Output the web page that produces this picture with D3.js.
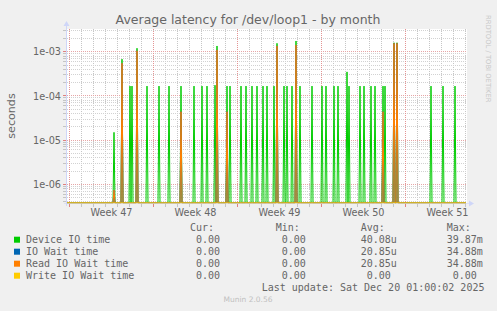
<!DOCTYPE html>
<html>
<head>
<meta charset="utf-8">
<script src="https://cdn.jsdelivr.net/npm/d3@7"></script>
<style>
  html, body { margin: 0; padding: 0; background: #f0f0f0; }
  svg { display: block; }
  text { fill: #666; font-family: 'DejaVu Sans', sans-serif; }
  .mono { font-family: 'DejaVu Sans Mono', monospace; font-size: 10px; white-space: pre; }
</style>
</head>
<body>
<svg id="chart" width="497" height="311"></svg>
<script>
const parseTime = d3.timeParse('%Y-%m-%d %H:%M');

const TITLE = 'Average latency for /dev/loop1 - by month';
const Y_LABEL = 'seconds';

// 2-hour averages that were not zero; every other sample is 0
const spikeTimes = [
  '2025-11-20 17:00', '2025-11-21 09:00', '2025-11-22 01:00', '2025-11-22 05:00',
  '2025-11-22 15:00', '2025-11-23 11:00', '2025-11-24 11:00', '2025-11-25 07:00',
  '2025-11-26 07:00', '2025-11-27 09:00', '2025-11-28 01:00', '2025-11-28 11:00',
  '2025-11-29 03:00', '2025-11-29 07:00', '2025-11-30 03:00', '2025-11-30 09:00',
  '2025-12-01 07:00', '2025-12-01 17:00', '2025-12-02 05:00', '2025-12-02 15:00',
  '2025-12-03 03:00', '2025-12-03 11:00', '2025-12-04 01:00', '2025-12-04 07:00',
  '2025-12-04 21:00', '2025-12-05 03:00', '2025-12-05 13:00', '2025-12-05 21:00',
  '2025-12-06 05:00', '2025-12-07 05:00', '2025-12-08 01:00', '2025-12-08 09:00',
  '2025-12-09 01:00', '2025-12-09 09:00', '2025-12-10 03:00', '2025-12-10 07:00',
  '2025-12-11 05:00', '2025-12-11 13:00', '2025-12-12 03:00', '2025-12-12 11:00',
  '2025-12-13 03:00', '2025-12-13 07:00', '2025-12-14 01:00', '2025-12-14 07:00',
  '2025-12-17 03:00', '2025-12-18 03:00', '2025-12-19 03:00',
];

const deviceIoTime = [
  1.5e-5, 6.8e-4, 1.67e-4, 1.67e-4, 1.2e-3, 1.67e-4, 1.67e-4, 1.67e-4,
  1.67e-4, 1.67e-4, 1.67e-4, 1.67e-4, 1.75e-4, 1.35e-3, 1.67e-4, 1.67e-4,
  1.67e-4, 1.67e-4, 1.67e-4, 1.67e-4, 1.67e-4, 1.67e-4, 1.67e-4, 1.55e-3,
  1.67e-4, 1.67e-4, 1.67e-4, 1.75e-3, 1.67e-4, 1.67e-4, 1.67e-4, 1.67e-4,
  1.67e-4, 1.67e-4, 3.5e-4, 1.67e-4, 1.67e-4, 1.67e-4, 1.67e-4, 1.67e-4,
  1.67e-4, 1.67e-4, 1.6e-3, 1.6e-3, 1.67e-4, 1.67e-4, 1.67e-4,
];

const ioWaitTime = [
  7.4e-7, 5.5e-4, 0, 0, 1.05e-3, 0, 0, 0,
  4.4e-5, 0, 0, 0, 0, 1.1e-3, 4.4e-5, 0,
  0, 0, 0, 0, 0, 0, 0, 1.35e-3,
  0, 0, 0, 1.42e-3, 0, 0, 0, 0,
  0, 0, 0, 0, 0, 0, 0, 0,
  4.4e-5, 0, 1.55e-3, 1.55e-3, 0, 0, 0,
];

const readIoWaitTime = [
  7.4e-7, 5.5e-4, 0, 0, 1.05e-3, 0, 0, 0,
  4.4e-5, 0, 0, 0, 0, 1.1e-3, 4.4e-5, 0,
  0, 0, 0, 0, 0, 0, 0, 1.35e-3,
  0, 0, 0, 1.42e-3, 0, 0, 0, 0,
  0, 0, 0, 0, 0, 0, 0, 0,
  4.4e-5, 0, 1.55e-3, 1.55e-3, 0, 0, 0,
];

const writeIoWaitTime = [
  0, 0, 0, 0, 0, 0, 0, 0, 0, 0, 0, 0, 0, 0, 0, 0,
  0, 0, 0, 0, 0, 0, 0, 0, 0, 0, 0, 0, 0, 0, 0, 0,
  0, 0, 0, 0, 0, 0, 0, 0, 0, 0, 0, 0, 0, 0, 0,
];

const DATA_START = '2025-11-16 19:00';
const DATA_END   = '2025-12-20 01:00';
const STEP_HOURS = 2;

const weekStarts = ['2025-11-17 00:00', '2025-11-24 00:00', '2025-12-01 00:00', '2025-12-08 00:00', '2025-12-15 00:00'];
const weekLabels = ['Week 47', 'Week 48', 'Week 49', 'Week 50', 'Week 51'];

const yTickValues = [1e-6, 1e-5, 1e-4, 1e-3];
const yTickLabels = ['1e-06', '1e-05', '1e-04', '1e-03'];

const seriesNames  = ['Device IO time', 'IO Wait time', 'Read IO Wait time', 'Write IO Wait time'];
const seriesColors = ['#00cc00', '#0066b3', '#ff8000', '#ffcc00'];
const curValues = [' 0.00', ' 0.00', ' 0.00', ' 0.00'];
const minValues = [' 0.00', ' 0.00', ' 0.00', ' 0.00'];
const avgValues = ['40.08u', '20.85u', '20.85u', ' 0.00'];
const maxValues = ['39.87m', '34.88m', '34.88m', ' 0.00'];
const LAST_UPDATE = 'Last update: Sat Dec 20 01:00:02 2025';
const VERSION = 'Munin 2.0.56';
const WATERMARK = 'RRDTOOL / TOBI OETIKER';

// ── Layout ──────────────────────────────────────────────────────────────────

const plot = { left: 67, right: 467, top: 29, bottom: 203 };
const AXIS_COLOR = '#cfd6f8';
const GRID_COLOR = '#d2d2d2';
const MGRID_COLOR = '#e6a6a6';

const svg = d3.select('#chart');

const x = d3.scaleTime()
  .domain([parseTime('2025-11-16 19:00'), parseTime('2025-12-20 03:00')])
  .range([plot.left, plot.right]);

const y = d3.scaleLog()
  .domain([3.78e-7, 3.27e-3])
  .range([plot.bottom, plot.top])
  .clamp(true);

const yPos = v => (v > 0 ? y(v) : plot.bottom);
const px = v => Math.floor(v) + 0.5;

// ── Canvas ──────────────────────────────────────────────────────────────────

svg.append('rect')
  .attr('x', plot.left).attr('y', plot.top)
  .attr('width', plot.right - plot.left).attr('height', plot.bottom - plot.top)
  .attr('fill', '#fff');

// ── Grid ────────────────────────────────────────────────────────────────────

const weekDates = weekStarts.map(parseTime);
const isWeekStart = d => weekDates.some(w => +w === +d);
const days = d3.timeDay.range(x.domain()[0], x.domain()[1]);
const yTicksAll = y.ticks();
const isDecade = v => Math.abs(Math.log10(v) - Math.round(Math.log10(v))) < 1e-9;

const grid = svg.append('g').attr('class', 'grid');

function vLines(data, color, tickColor) {
  const g = grid.append('g');
  g.selectAll('line.grid')
    .data(data)
    .join('line')
    .attr('class', 'grid')
    .attr('x1', d => px(x(d))).attr('x2', d => px(x(d)))
    .attr('y1', plot.top).attr('y2', plot.bottom)
    .attr('stroke', color)
    .attr('stroke-dasharray', '1,1');
  g.selectAll('line.tick')
    .data(data)
    .join('line')
    .attr('class', 'tick')
    .attr('x1', d => px(x(d))).attr('x2', d => px(x(d)))
    .attr('y1', plot.bottom + 1).attr('y2', plot.bottom + 4)
    .attr('stroke', tickColor);
}

function hLines(data, color, tickColor) {
  const g = grid.append('g');
  g.selectAll('line.grid')
    .data(data)
    .join('line')
    .attr('class', 'grid')
    .attr('x1', plot.left).attr('x2', plot.right)
    .attr('y1', d => px(y(d))).attr('y2', d => px(y(d)))
    .attr('stroke', color)
    .attr('stroke-dasharray', '1,1');
  g.selectAll('line.tick')
    .data(data)
    .join('line')
    .attr('class', 'tick')
    .attr('x1', plot.left - 4).attr('x2', plot.left - 1)
    .attr('y1', d => px(y(d))).attr('y2', d => px(y(d)))
    .attr('stroke', tickColor);
}

vLines(days.filter(d => !isWeekStart(d)), '#c6c6c6', '#c4c4c4');
hLines(yTicksAll.filter(v => !isDecade(v)), GRID_COLOR, '#c4c4c4');
vLines(weekDates, '#e49494', '#e08080');
hLines(yTickValues, MGRID_COLOR, '#e08080');

// ── Axis labels ─────────────────────────────────────────────────────────────

svg.append('g')
  .selectAll('text')
  .data(yTickValues)
  .join('text')
  .attr('x', 61)
  .attr('y', d => y(d) + 3.6)
  .attr('text-anchor', 'end')
  .style('font-size', '9.7px')
  .text((d, i) => yTickLabels[i]);

svg.append('g')
  .selectAll('text')
  .data(weekDates)
  .join('text')
  .attr('x', d => x(d3.timeHour.offset(d, 84)))
  .attr('y', 216)
  .attr('text-anchor', 'middle')
  .style('font-size', '9.7px')
  .text((d, i) => weekLabels[i]);

svg.append('text')
  .attr('transform', `translate(15,${(plot.top + plot.bottom) / 2}) rotate(-90)`)
  .attr('text-anchor', 'middle')
  .style('font-size', '11.1px')
  .text(Y_LABEL);

svg.append('text')
  .attr('x', 248)
  .attr('y', 24)
  .attr('text-anchor', 'middle')
  .style('font-size', '12.5px')
  .text(TITLE);

svg.append('text')
  .attr('transform', 'translate(486,15) rotate(90)')
  .style('font-size', '6.8px')
  .style('fill', '#c8c8c8')
  .text(WATERMARK);

// ── Series ──────────────────────────────────────────────────────────────────

const allSeries = [deviceIoTime, ioWaitTime, readIoWaitTime, writeIoWaitTime];
const samples = d3.timeHour.range(parseTime(DATA_START), d3.timeHour.offset(parseTime(DATA_END), 1), STEP_HOURS);

const tables = allSeries.map(values => {
  const byTime = new Map(spikeTimes.map((t, i) => [+parseTime(t), values[i]]));
  return samples.map(t => ({ t, v: byTime.get(+t) || 0 }));
});

const line = d3.line()
  .x(d => x(d.t))
  .y(d => yPos(d.v));

svg.append('g')
  .selectAll('path')
  .data(tables)
  .join('path')
  .attr('d', line)
  .attr('fill', 'none')
  .attr('stroke', (d, i) => seriesColors[i])
  .attr('stroke-width', 1);

// ── Axes (rrdtool style arrows) ─────────────────────────────────────────────

svg.append('line')
  .attr('x1', plot.left - 3).attr('x2', plot.right + 2)
  .attr('y1', plot.bottom + 0.5).attr('y2', plot.bottom + 0.5)
  .attr('stroke', AXIS_COLOR).attr('stroke-opacity', 0.6);

svg.append('line')
  .attr('x1', plot.left - 0.5).attr('x2', plot.left - 0.5)
  .attr('y1', plot.bottom + 3).attr('y2', plot.top - 4)
  .attr('stroke', AXIS_COLOR);

svg.append('path')
  .attr('d', `M${plot.right + 2},${plot.bottom - 2.5}L${plot.right + 7},${plot.bottom + 0.5}L${plot.right + 2},${plot.bottom + 3.5}Z`)
  .attr('fill', AXIS_COLOR);

svg.append('path')
  .attr('d', `M${plot.left - 3.5},${plot.top - 3}L${plot.left - 0.5},${plot.top - 8}L${plot.left + 2.5},${plot.top - 3}Z`)
  .attr('fill', AXIS_COLOR);

// ── Legend ──────────────────────────────────────────────────────────────────

const legend = svg.append('g').attr('class', 'legend');
const rowY = i => 243.3 + i * 12;
const cols = [
  { x: 190,   head: 'Cur:', values: curValues },
  { x: 275.7, head: 'Min:', values: minValues },
  { x: 360.7, head: 'Avg:', values: avgValues },
  { x: 446.7, head: 'Max:', values: maxValues },
];

for (const c of cols) {
  legend.append('text').attr('class', 'mono').attr('x', c.x).attr('y', 231.3).text(c.head);
  c.values.forEach((v, i) => {
    legend.append('text')
      .attr('class', 'mono')
      .attr('xml:space', 'preserve')
      .attr('x', c.x).attr('y', rowY(i))
      .text(v);
  });
}

seriesNames.forEach((name, i) => {
  legend.append('rect')
    .attr('x', 14).attr('y', rowY(i) - 6.6)
    .attr('width', 6).attr('height', 6)
    .attr('fill', seriesColors[i]);
  legend.append('text')
    .attr('class', 'mono')
    .attr('x', 26).attr('y', rowY(i))
    .text(name);
});

legend.append('text').attr('class', 'mono').attr('x', 261.7).attr('y', 291.3).text(LAST_UPDATE);

svg.append('text')
  .attr('x', 248).attr('y', 302)
  .attr('text-anchor', 'middle')
  .style('font-size', '7.5px')
  .style('fill', '#c0c0c0')
  .text(VERSION);
</script>
</body>
</html>
